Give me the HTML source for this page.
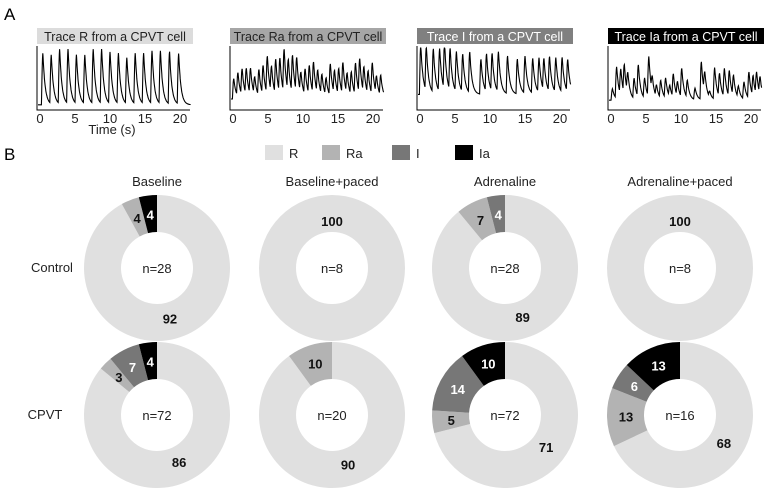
<!DOCTYPE html>
<html><head><meta charset="utf-8">
<style>
body{margin:0;background:#fff;}
svg{display:block;font-family:"Liberation Sans",Arial,sans-serif;}
</style></head>
<body>
<svg id="fig" width="765" height="491" viewBox="0 0 765 491" xmlns="http://www.w3.org/2000/svg">
<text x="4" y="20" font-size="17">A</text>
<text x="4" y="160" font-size="17">B</text>
<g id="traces"></g>
<g id="legend"></g>
<g id="donuts"></g>
</svg>
<script>
// ---------- Trace data (peak times in s, peak heights 0-1) ----------
const traceTitles = ["Trace R from a CPVT cell","Trace Ra from a CPVT cell","Trace I from a CPVT cell","Trace Ia from a CPVT cell"];
const traceRTimes = [0.5,1.7,2.9,4.1,5.3,6.5,7.7,8.9,10.1,11.3,12.5,13.7,14.9,16.1,17.3,18.6,19.9];
const traceRHeights = [0.9,0.85,0.95,0.95,0.85,0.85,0.95,0.95,0.9,0.88,0.8,0.88,0.88,0.92,0.92,0.9,0.88];
const traceRBase = 0.02;
const traceRaTimes = [0.2,0.8,1.4,2.0,2.6,3.2,3.8,4.4,5.0,5.6,6.2,6.8,7.4,8.0,8.6,9.2,9.8,10.4,11.0,11.6,12.2,12.8,13.4,14.0,14.6,15.2,15.8,16.4,17.0,17.6,18.2,18.8,19.4,20.0,20.6,21.2];
const traceRaHeights = [0.35,0.4,0.45,0.45,0.45,0.3,0.45,0.5,0.65,0.45,0.6,0.6,0.75,0.55,0.65,0.6,0.35,0.45,0.5,0.55,0.4,0.35,0.3,0.55,0.4,0.45,0.55,0.35,0.4,0.55,0.6,0.45,0.4,0.55,0.3,0.35];
const traceRaBase = 0.12;
const traceITimes = [0.2,1.0,2.0,2.9,3.6,4.4,5.3,6.2,7.2,8.8,9.6,10.4,11.3,12.6,14.0,15.1,16.2,17.1,17.8,18.6,19.5,20.4,21.2];
const traceIHeights = [0.85,0.75,0.75,0.75,0.8,0.72,0.7,0.65,0.7,0.6,0.65,0.65,0.7,0.65,0.6,0.65,0.6,0.6,0.55,0.6,0.6,0.6,0.55];
const traceIBase = 0.2;
const traceIaTimes = [0.3,0.9,1.5,2.0,2.5,3.4,4.0,4.9,5.5,6.0,6.6,7.2,7.9,8.5,9.0,9.6,10.2,11.0,12.1,13.0,13.5,14.2,14.9,15.6,16.3,17.0,17.6,18.3,19.1,19.8,20.4,20.9,21.4];
const traceIaHeights = [0.2,0.55,0.45,0.5,0.35,0.35,0.55,0.35,0.7,0.25,0.2,0.3,0.35,0.2,0.4,0.25,0.5,0.3,0.2,0.65,0.35,0.1,0.55,0.4,0.5,0.45,0.35,0.2,0.3,0.45,0.35,0.4,0.3];
const traceIaBase = 0.1;

// ---------- Donut data (percent R, Ra, I, Ia) ----------
const categories = ["R","Ra","I","Ia"];
const columnTitles = ["Baseline","Baseline+paced","Adrenaline","Adrenaline+paced"];
const rowTitles = ["Control","CPVT"];
const controlR  = [92,100,89,100];
const controlRa = [4,0,7,0];
const controlI  = [0,0,4,0];
const controlIa = [4,0,0,0];
const cpvtR  = [86,90,71,68];
const cpvtRa = [3,10,5,13];
const cpvtI  = [7,0,14,6];
const cpvtIa = [4,0,10,13];
const controlN = [28,8,28,8];
const cpvtN = [72,20,72,16];
const xTicks = [0,5,10,15,20];

const NS="http://www.w3.org/2000/svg";
function mk(tag, attrs, parent){const e=document.createElementNS(NS,tag);for(const k in attrs)e.setAttribute(k,attrs[k]);parent.appendChild(e);return e;}

// ---------- Traces ----------
const tracesG=document.getElementById('traces');
const panelX=[37,230,417,608];
const titleBg=["#dcdcdc","#a6a6a6","#808080","#000"];
const titleFg=["#222","#222","#fff","#fff"];
const traceSets=[[traceRTimes,traceRHeights,traceRBase],[traceRaTimes,traceRaHeights,traceRaBase],[traceITimes,traceIHeights,traceIBase],[traceIaTimes,traceIaHeights,traceIaBase]];
const tTop=46,tBot=108,pxPerS=7.0;
function shape(dt){ if(dt<0) return 0; if(dt<0.2) return Math.sin(dt/0.2*Math.PI/2); return Math.exp(-(dt-0.2)/0.32); }
traceSets.forEach((set,i)=>{
  const x0=panelX[i];
  const g=mk('g',{},tracesG);
  
  
  const r=mk('rect',{x:x0,y:28,width:156,height:16,fill:titleBg[i]},g);
  
  
  const t=mk('text',{x:x0+78,y:41,'font-size':12.5,'text-anchor':'middle',fill:titleFg[i]},g);
  t.textContent=traceTitles[i];
  
  
  const ax=mk('path',{d:`M${x0} ${tTop}V${tBot+2}H${x0+153}`,stroke:'#000','stroke-width':1,fill:'none'},g);
  
  
  xTicks.forEach(v=>{
    const tx=mk('text',{x:x0+3+v*pxPerS,y:123,'font-size':13,'text-anchor':'middle',fill:'#222'},g);
    tx.textContent=v;
    
    
  });
  const [times,hts,base]=set;
  let d='';
  for(let s=0;s<=21.8;s+=0.04){
    let v=base;
    times.forEach((tp,k)=>{v+=hts[k]*shape(s-tp);});
    v=Math.min(v,1);
    const px=x0+1+s*pxPerS, py=tBot-2-v*(tBot-tTop-4);
    d+=(d?'L':'M')+px.toFixed(1)+' '+py.toFixed(1);
  }
  const ln=mk('path',{d:d,stroke:'#000','stroke-width':1.1,fill:'none'},g);
  
  
});
const tl=mk('text',{x:112,y:134,'font-size':13,'text-anchor':'middle',fill:'#222'},tracesG);
tl.textContent='Time (s)';



// ---------- Legend ----------
const colors=["#e0e0e0","#b3b3b3","#777777","#000000"];
const legendX=[265,322,392,455];
const lg=document.getElementById('legend');
categories.forEach((c,i)=>{
  const g=mk('g',{},lg);
  
  
  mk('rect',{x:legendX[i],y:145,width:18,height:15,fill:colors[i]},g);
  const t=mk('text',{x:legendX[i]+24,y:158,'font-size':13,fill:'#222'},g);
  t.textContent=c;
});

// ---------- Donuts ----------
const colX=[157,332,505,680];
const rowY=[268,415];
const R0=73,R1=36;
const dg=document.getElementById('donuts');
columnTitles.forEach((c,i)=>{
  const t=mk('text',{x:colX[i],y:186,'font-size':13,'text-anchor':'middle',fill:'#222'},dg);
  t.textContent=c;
  
  
});
rowTitles.forEach((r,j)=>{
  const t=mk('text',{x:j?45:52,y:rowY[j]+4,'font-size':13,'text-anchor':'middle',fill:'#222'},dg);
  t.textContent=r;
  
  
});
function pt(cx,cy,r,frac){const a=frac*2*Math.PI;return [cx+r*Math.sin(a),cy-r*Math.cos(a)];}
const rows=[[controlR,controlRa,controlI,controlIa,controlN],[cpvtR,cpvtRa,cpvtI,cpvtIa,cpvtN]];
rows.forEach((row,j)=>{
  for(let i=0;i<4;i++){
    const cx=colX[i],cy=rowY[j];
    const g=mk('g',{},dg);
    
    
    const vals=[row[0][i],row[1][i],row[2][i],row[3][i]];
    const tot=vals.reduce((a,b)=>a+b,0);
    let acc=0;
    vals.forEach((v,k)=>{
      if(v<=0) return;
      const f0=acc/tot,f1=(acc+v)/tot;acc+=v;
      let el;
      if(f1-f0>=0.9999){
        el=mk('circle',{cx:cx,cy:cy,r:(R0+R1)/2,fill:'none',stroke:colors[k],'stroke-width':R0-R1},g);
      } else {
        const [ax,ay]=pt(cx,cy,R0,f0),[bx,by]=pt(cx,cy,R0,f1),[cx2,cy2]=pt(cx,cy,R1,f1),[dx,dy]=pt(cx,cy,R1,f0);
        const lg=(f1-f0)>0.5?1:0;
        el=mk('path',{d:`M${ax} ${ay}A${R0} ${R0} 0 ${lg} 1 ${bx} ${by}L${cx2} ${cy2}A${R1} ${R1} 0 ${lg} 0 ${dx} ${dy}Z`,fill:colors[k]},g);
      }
      
      
      let lx,ly;
      if(v===100){lx=cx;ly=cy-R0+26;}
      else{const mid=(f0+f1)/2;const rr=(k===0)?52:54;[lx,ly]=pt(cx,cy,rr,mid);}
      const lt=mk('text',{x:lx,y:ly+5,'font-size':13,'font-weight':'bold','text-anchor':'middle',fill:k>=2?'#fff':'#111'},g);
      lt.textContent=v;
      
      
    });
    const nt=mk('text',{x:cx,y:cy+5,'font-size':13,'text-anchor':'middle',fill:'#222'},g);
    nt.textContent='n='+row[4][i];
    
    
  }
});
</script>
</body></html>
